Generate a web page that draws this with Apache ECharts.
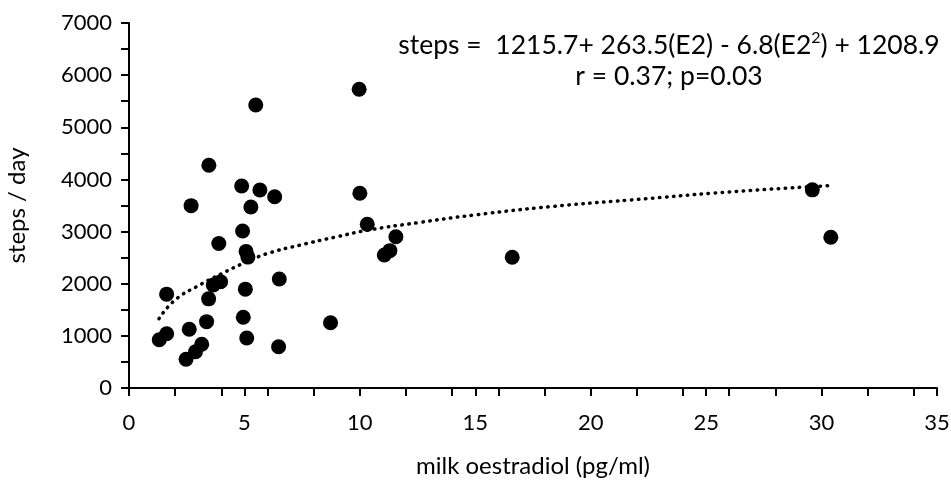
<!DOCTYPE html>
<html>
<head>
<meta charset="utf-8">
<script src="https://cdn.jsdelivr.net/npm/echarts@6/dist/echarts.min.js"></script>
<style>
  html, body { margin: 0; padding: 0; background: #fff; }
  #chart { width: 951px; height: 486px; }
</style>
</head>
<body>
<div id="chart"></div>
<script>
// milk oestradiol (pg/ml) vs steps/day
var e2Values = [1.31, 1.63, 1.63, 2.47, 2.88, 3.15, 2.61, 3.36, 3.45, 3.65, 3.97, 3.89,
                4.92, 5.07, 5.15, 5.04, 4.95, 5.10, 6.51, 6.48, 5.49, 3.46, 4.88, 5.67,
                6.31, 5.28, 2.69, 9.97, 10.0, 10.32, 11.56, 11.30, 11.06, 8.73, 16.6, 30.4, 29.6];
var stepValues = [925, 1040, 1800, 550, 696, 840, 1126, 1272, 1710, 1975, 2039, 2770,
                  3011, 2620, 2510, 1896, 1356, 960, 2091, 792, 5428, 4271, 3874, 3798,
                  3669, 3472, 3497, 5729, 3734, 3140, 2902, 2634, 2551, 1252, 2507, 2890, 3800];

// dotted trend line
var trendX = [1.3, 2, 3, 4, 5, 6, 7.4, 9, 10.4, 12.5, 15, 18.3, 22.4, 26, 30.3];
var trendY = [1330, 1690, 1960, 2190, 2400, 2580, 2740, 2900, 3030, 3170, 3320, 3480, 3630, 3760, 3880];

var xTicks = [0, 5, 10, 15, 20, 25, 30, 35];
// excel draws majors every 5 and minors every 2
var xAllTicks = [0, 2, 4, 5, 6, 8, 10, 12, 14, 15, 16, 18, 20, 22, 24, 25, 26, 28, 30, 32, 34, 35];
var yTicks = [0, 1000, 2000, 3000, 4000, 5000, 6000, 7000];

var points = e2Values.map(function (x, i) { return [x, stepValues[i]]; });
var trend = trendX.map(function (x, i) { return [x, trendY[i]]; });

var font = 'Lato';

var chart = echarts.init(document.getElementById('chart'));
var option = {
  animation: false,
  grid: { left: 129, right: 14, top: 23, bottom: 98, outerBoundsMode: 'none', containLabel: false },
  title: {
    text: '{t|steps =  1215.7+ 263.5(E2) - 6.8(E2}{s|2}{t|) + 1208.9}\n{t|r = 0.37; p=0.03}',
    left: 664, top: 25, textAlign: 'center',
    textStyle: {
      fontWeight: 'normal',
      rich: {
        t: { fontFamily: font, fontSize: 26.5, fontWeight: 'normal', color: '#000', lineHeight: 31 },
        s: { fontFamily: font, fontSize: 16, fontWeight: 'normal', color: '#000', verticalAlign: 'top', lineHeight: 31, padding: [0, 0, 12, 0] }
      }
    }
  },
  xAxis: {
    type: 'value', min: xTicks[0], max: xTicks[xTicks.length - 1], interval: 5,
    name: 'milk oestradiol (pg/ml)', nameLocation: 'middle', nameGap: 66,
    nameTextStyle: { fontFamily: font, fontSize: 24, color: '#000' },
    axisLine: { onZero: false, lineStyle: { color: '#000', width: 2 } },
    axisTick: { show: true, length: 8, customValues: xAllTicks, lineStyle: { color: '#000', width: 2 } },
    axisLabel: { fontFamily: font, fontSize: 22, color: '#000', margin: 24, customValues: xTicks },
    splitLine: { show: false }
  },
  yAxis: {
    type: 'value', min: yTicks[0], max: yTicks[yTicks.length - 1], interval: 1000,
    name: 'steps / day', nameLocation: 'middle', nameGap: 100, nameRotate: 90,
    nameTextStyle: { fontFamily: font, fontSize: 24, color: '#000' },
    axisLine: { show: true, onZero: false, lineStyle: { color: '#000', width: 2 } },
    axisTick: { show: true, length: 8, lineStyle: { color: '#000', width: 2 } },
    minorTick: { show: true, splitNumber: 2, length: 8, lineStyle: { color: '#000', width: 2 } },
    axisLabel: { fontFamily: font, fontSize: 22, color: '#000', margin: 17,
      formatter: function (v) { return String(v); } },
    splitLine: { show: false }
  },
  series: [{
    type: 'line', data: trend, smooth: true, showSymbol: false, symbol: 'none',
    lineStyle: { color: '#000', width: 3.5, type: [0.5, 6.5], cap: 'round' },
    z: 1
  }, {
    type: 'scatter', data: points, symbol: 'circle', symbolSize: 15,
    itemStyle: { color: '#000', opacity: 1 },
    z: 2
  }]
};
chart.setOption(option);
</script>
</body>
</html>
